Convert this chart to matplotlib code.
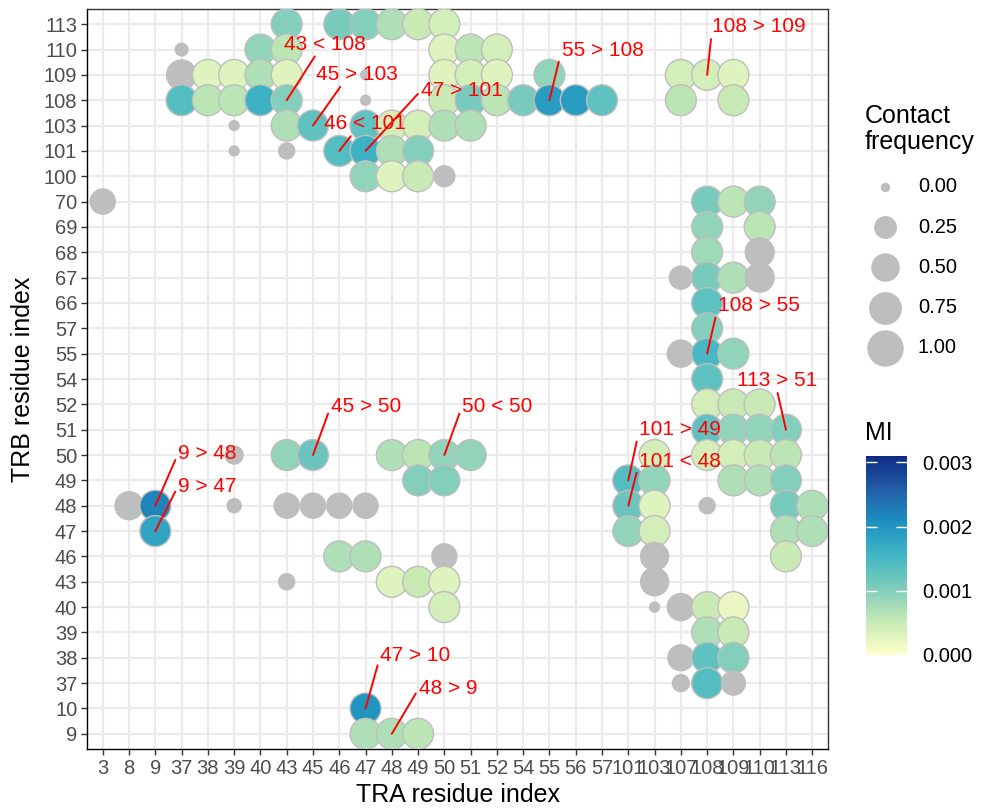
import numpy as np
import matplotlib
import matplotlib.pyplot as plt
from matplotlib.colors import LinearSegmentedColormap, Normalize

plt.rcParams['font.family'] = ['Liberation Sans', 'DejaVu Sans']

nan = float('nan')

# residue categories (discrete axes)
tra_levels = [3, 8, 9, 37, 38, 39, 40, 43, 45, 46, 47, 48, 49, 50, 51, 52, 54, 55, 56, 57,
              101, 103, 107, 108, 109, 110, 113, 116]
trb_levels = [9, 10, 37, 38, 39, 40, 43, 46, 47, 48, 49, 50, 51, 52, 54, 55, 57, 66, 67, 68,
              69, 70, 100, 101, 103, 108, 109, 110, 113]

# contacts, one line per TRB residue; MI = nan -> no MI (grey)
pt_tra = [43, 46, 47, 48, 49, 50,
          37, 40, 43, 50, 51, 52,
          37, 38, 39, 40, 43, 47, 50, 51, 52, 55, 107, 108, 109,
          37, 38, 39, 40, 43, 47, 50, 51, 52, 54, 55, 56, 57, 107, 109,
          39, 43, 45, 47, 48, 49, 50, 51,
          39, 43, 46, 47, 48, 49,
          47, 48, 49, 50,
          3, 108, 109, 110,
          108, 110,
          108, 110,
          107, 108, 109, 110,
          108,
          108,
          107, 108, 109,
          108,
          108, 109, 110,
          108, 109, 110, 113,
          39, 43, 45, 48, 49, 50, 51, 103, 108, 109, 110, 113,
          49, 50, 101, 103, 109, 110, 113,
          8, 9, 39, 43, 45, 46, 47, 101, 103, 108, 113, 116,
          9, 101, 103, 113, 116,
          46, 47, 50, 103, 113,
          43, 48, 49, 50, 103,
          50, 103, 107, 108, 109,
          108, 109,
          107, 108, 109,
          107, 108, 109,
          47,
          47, 48, 49]
pt_trb = [113, 113, 113, 113, 113, 113,
          110, 110, 110, 110, 110, 110,
          109, 109, 109, 109, 109, 109, 109, 109, 109, 109, 109, 109, 109,
          108, 108, 108, 108, 108, 108, 108, 108, 108, 108, 108, 108, 108, 108, 108,
          103, 103, 103, 103, 103, 103, 103, 103,
          101, 101, 101, 101, 101, 101,
          100, 100, 100, 100,
          70, 70, 70, 70,
          69, 69,
          68, 68,
          67, 67, 67, 67,
          66,
          57,
          55, 55, 55,
          54,
          52, 52, 52,
          51, 51, 51, 51,
          50, 50, 50, 50, 50, 50, 50, 50, 50, 50, 50, 50,
          49, 49, 49, 49, 49, 49, 49,
          48, 48, 48, 48, 48, 48, 48, 48, 48, 48, 48, 48,
          47, 47, 47, 47, 47,
          46, 46, 46, 46, 46,
          43, 43, 43, 43, 43,
          40, 40, 40, 40, 40,
          39, 39,
          38, 38, 38,
          37, 37, 37,
          10,
          9, 9, 9]
pt_freq = [.72, .72, .72, .72, .72, .72,
           .03, .72, .72, .72, .72, .72,
           .66, .72, .72, .72, .72, .005, .72, .72, .72, .72, .72, .72, .72,
           .72, .72, .72, .72, .72, .005, .72, .72, .72, .72, .72, .72, .72, .72, .72,
           .005, .72, .72, .72, .72, .72, .72, .72,
           .005, .09, .72, .72, .72, .72,
           .72, .72, .72, .23,
           .40, .72, .72, .72,
           .72, .72,
           .72, .60,
           .31, .72, .72, .60,
           .72,
           .72,
           .50, .72, .72,
           .72,
           .72, .72, .72,
           .72, .72, .72, .72,
           .14, .72, .72, .72, .72, .72, .72, .72, .72, .72, .72, .72,
           .72, .72, .72, .72, .72, .72, .72,
           .55, .72, .05, .40, .40, .40, .40, .72, .72, .09, .72, .72,
           .72, .72, .72, .72, .72,
           .72, .72, .40, .55, .72,
           .09, .72, .72, .72, .55,
           .72, .005, .50, .72, .72,
           .72, .72,
           .44, .72, .72,
           .11, .72, .35,
           .72,
           .72, .72, .72]
pt_mi = [.0010, .0011, .0010, .0007, .0005, .0004,
         nan, .0009, .0006, .0003, .0006, .0004,
         nan, .0003, .0003, .0007, .0003, nan, .0003, .0004, .0003, .0009, .0004, .0004, .0003,
         .0014, .0006, .0006, .0016, .0010, nan, .0005, .0011, .0006, .0011, .0019, .0019, .0013, .0006, .0005,
         nan, .0007, .0013, .0013, .0004, .0004, .0007, .0007,
         nan, nan, .0014, .0016, .0007, .0010,
         .0009, .0003, .0005, nan,
         nan, .0011, .0006, .0009,
         .0009, .0006,
         .0008, nan,
         nan, .0011, .0007, nan,
         .0013,
         .0010,
         nan, .0015, .0009,
         .0013,
         .0004, .0005, .0005,
         .0013, .0009, .0009, .0010,
         nan, .0009, .0012, .0007, .0006, .0009, .0009, .0004, .0004, .0004, .0005, .0006,
         .0010, .0010, .0014, .0009, .0007, .0007, .0010,
         nan, .0022, nan, nan, nan, nan, nan, .0012, .0003, nan, .0011, .0007,
         .0018, .0009, .0004, .0007, .0007,
         .0007, .0007, nan, nan, .0005,
         nan, .0003, .0005, .0003, nan,
         .0004, nan, nan, .0005, .0002,
         .0007, .0005,
         nan, .0013, .0010,
         nan, .0014, nan,
         .0020,
         .0007, .0007, .0006]

# labelled pairs
lab_text = ['43 < 108', '45 > 103', '46 < 101', '47 > 101', '55 > 108', '108 > 109',
            '108 > 55', '113 > 51', '101 > 49', '101 < 48', '9 > 48', '9 > 47',
            '45 > 50', '50 < 50', '47 > 10', '48 > 9']
lab_tra = [43, 45, 46, 47, 55, 108, 108, 113, 101, 101, 9, 9, 45, 50, 47, 48]
lab_trb = [108, 103, 101, 101, 108, 109, 55, 51, 49, 48, 48, 47, 50, 50, 10, 9]

size_breaks = [0.00, 0.25, 0.50, 0.75, 1.00]
mi_ticks = [0.000, 0.001, 0.002, 0.003]
mi_max = 0.0031

# ---------------------------------------------------------------------------
W, H = 982, 810
fig = plt.figure(figsize=(W / 100, H / 100), dpi=100)
ax = fig.add_axes([87 / W, 1 - 749 / H, (828 - 87) / W, (749 - 9) / H])

ylgnbu7 = ['#ffffcc', '#c7e9b4', '#7fcdbb', '#41b6c4', '#1d91c0', '#225ea8', '#0c2c84']
cmap = LinearSegmentedColormap.from_list('ylgnbu7', ylgnbu7)
cmap.set_bad('#BEBEBE')
norm = Normalize(0, mi_max)


def size_px(f):
    return 8 + 27 * np.sqrt(np.asarray(f))


xi = [tra_levels.index(v) for v in pt_tra]
yi = [trb_levels.index(v) for v in pt_trb]
ax.scatter(xi, yi, s=(size_px(pt_freq) * 0.72) ** 2, c=pt_mi, cmap=cmap, norm=norm,
           edgecolors='#BEBEBE', linewidths=1.0, plotnonfinite=True, zorder=3)

# labels with leader lines (offsets in pixels)
lab_off = [(38, 56), (44, 51), (26, 27), (96, 60), (53, 50), (52, 48), (52, 48), (-9, 49),
           (52, 51), (52, 44), (52, 52), (52, 45), (53, 49), (53, 49), (50, 53), (56, 45)]
lab_rel = [(0.4, 0), (0.32, 0), (0.35, 0), (0, 0.5), (0, 0.5), (0, 0.5), (0, 0.5), (0.5, 0),
           (0, 0.5), (0, 0.5), (0, 0.5), (0, 0.5), (0, 0.5), (0, 0.5), (0, 0.5), (0, 0.5)]
for t, a, b, off, rp in zip(lab_text, lab_tra, lab_trb, lab_off, lab_rel):
    ax.annotate(t, xy=(tra_levels.index(a), trb_levels.index(b)), xytext=off,
                textcoords='offset pixels', ha='center', va='center', color='red',
                fontsize=15, zorder=5,
                arrowprops=dict(arrowstyle='-', color='red', lw=1.4, shrinkA=0, shrinkB=0,
                                relpos=rp))

ax.set_xlim(-0.6, len(tra_levels) - 0.4)
ax.set_ylim(-0.6, len(trb_levels) - 0.4)
ax.set_xticks(range(len(tra_levels)))
ax.set_xticklabels([str(v) for v in tra_levels])
ax.set_yticks(range(len(trb_levels)))
ax.set_yticklabels([str(v) for v in trb_levels])
ax.tick_params(labelsize=14.5, labelcolor='#4D4D4D', color='#333333', length=4, width=1, pad=3)
ax.grid(True, color='#EBEBEB', lw=1.6)
ax.set_axisbelow(True)
for sp in ax.spines.values():
    sp.set_color('#333333')
    sp.set_linewidth(1.0)
ax.spines['left'].set_color('black')
ax.spines['bottom'].set_color('black')
ax.set_xlabel('TRA residue index', fontsize=18, labelpad=4)
ax.set_ylabel('TRB residue index', fontsize=18, labelpad=6)

# size legend (pixel coordinate overlay)
lax = fig.add_axes([0, 0, 1, 1], facecolor='none')
lax.set_xlim(0, W)
lax.set_ylim(H, 0)
lax.axis('off')
lax.text(865, 129, 'Contact\nfrequency', fontsize=18, ha='left', va='center', linespacing=1.15)
for k, f in enumerate(size_breaks):
    yk = 187 + 40.2 * k
    lax.scatter([885], [yk], s=(size_px(f) * 0.72) ** 2, color='#BEBEBE', edgecolors='#BEBEBE',
                linewidths=1.0)
    lax.text(918, yk, f'{f:.2f}', fontsize=14.5, ha='left', va='center')
lax.text(865, 433, 'MI', fontsize=18, ha='left', va='center')

# MI colour bar
cax = fig.add_axes([866 / W, 1 - 655 / H, 41 / W, (655 - 456) / H])
sm = matplotlib.cm.ScalarMappable(norm=norm, cmap=cmap)
cb = fig.colorbar(sm, cax=cax, ticks=mi_ticks)
cb.outline.set_visible(False)
cb.ax.set_yticklabels([f'{v:.3f}' for v in mi_ticks])
cb.ax.tick_params(labelsize=14.5, direction='in', color='white', length=8, width=1,
                  left=True, right=True, pad=11)

fig.savefig('out.png', dpi=100)
